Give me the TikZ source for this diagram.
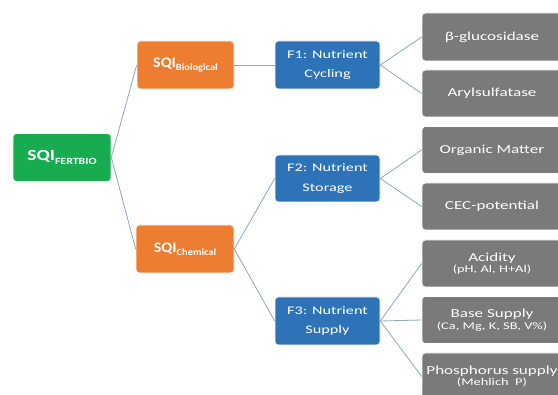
\documentclass[tikz,border=0pt]{standalone}
\usepackage{fontspec}
\setmainfont{Carlito}[FakeStretch=1.4]
\newfontfamily\sqifont{Carlito}[FakeStretch=1.25]
\newfontfamily\sqiofont{Carlito}[FakeStretch=1.1]
\definecolor{boxgreen}{HTML}{17AC4F}
\definecolor{boxorange}{HTML}{ED7D31}
\definecolor{boxblue}{HTML}{2E73B8}
\definecolor{boxgray}{HTML}{7A7A7A}
\definecolor{connc}{HTML}{8DA6C2}
\tikzset{
  basebox/.style={rounded corners=3.5pt, text=white, align=center, inner sep=0pt, draw=white, line width=0.6pt},
  sqibox/.style={basebox, fill=#1, minimum width=98pt, minimum height=48pt},
  fbox/.style={basebox, fill=boxblue, minimum width=105pt, minimum height=48pt,
    font=\fontsize{11.6}{21}\selectfont},
  leafbox/.style={basebox, fill=boxgray, minimum width=140pt, minimum height=47pt,
    font=\fontsize{12.2}{14}\selectfont},
  conn/.style={draw=connc, line width=0.8pt},
}
\newcommand{\sqilabel}[1]{{\sqifont\fontsize{15.5}{18}\selectfont\bfseries SQI}\raisebox{-3.6pt}{\sqifont\fontsize{9.5}{11}\selectfont\bfseries #1}}
\newcommand{\sqiolabel}[1]{{\sqiofont\fontsize{14.5}{18}\selectfont\bfseries SQI}\raisebox{-3.4pt}{\sqiofont\fontsize{9.5}{11}\selectfont\bfseries #1}}
\newcommand{\subline}[1]{\\[-1pt]{\fontsize{10.3}{12}\selectfont #1}}
\begin{document}
\begin{tikzpicture}[x=1pt,y=-1pt]
\useasboundingbox (0,0) rectangle (558,395);
\fill[white] (0,0) rectangle (558,395);
\clip (0,0) rectangle (558,395);
% nodes
\node[sqibox=boxgreen] (fert) at (62,157.5) {\sqilabel{FERTBIO}};
\node[sqibox=boxorange, minimum width=97pt] (bio) at (185.5,65) {\sqiolabel{Biological}};
\node[sqibox=boxorange] (chem) at (185,249) {\sqiolabel{Chemical}};
\node[fbox] (f1) at (327.5,65) {\raisebox{-1.5pt}{F1: Nutrient}\\Cycling};
\node[fbox, minimum height=47pt] (f2) at (327.5,178.5) {\raisebox{-1.5pt}{F2: Nutrient}\\Storage};
\node[fbox] (f3) at (327.5,321) {\raisebox{-1.5pt}{F3: Nutrient}\\Supply};
\node[leafbox, minimum height=48pt] (g1) at (492,37) {β-glucosidase};
\node[leafbox] (g2) at (492,93.5) {Arylsulfatase};
\node[leafbox] (g3) at (492,150) {Organic Matter};
\node[leafbox] (g4) at (492,206.5) {CEC-potential};
\node[leafbox] (g5) at (492,263.5) {\raisebox{-1.5pt}{Acidity}\subline{(pH, Al, H+Al)}};
\node[leafbox] (g6) at (492,320) {\raisebox{-1.5pt}{Base Supply}\subline{(Ca, Mg, K, SB, V\%)}};
\node[leafbox] (g7) at (492,376.5) {\raisebox{-1.5pt}{Phosphorus supply}\subline{(Mehlich~~P)}};
% connectors
\draw[conn] (fert.east) -- (bio.west);
\draw[conn] (fert.east) -- (chem.west);
\draw[conn] (bio.east) -- (f1.west);
\draw[conn] (chem.east) -- (f2.west);
\draw[conn] (chem.east) -- (f3.west);
\draw[conn] (f1.east) -- (g1.west);
\draw[conn] (f1.east) -- (g2.west);
\draw[conn] (f2.east) -- (g3.west);
\draw[conn] (f2.east) -- (g4.west);
\draw[conn] (f3.east) -- (g5.west);
\draw[conn] (f3.east) -- (g6.west);
\draw[conn] (f3.east) -- (g7.west);
\end{tikzpicture}
\end{document}
